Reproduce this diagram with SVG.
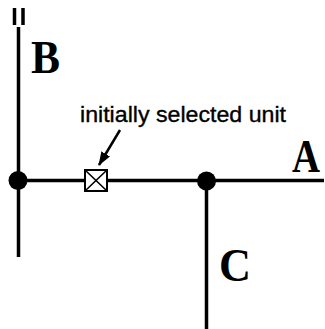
<svg xmlns="http://www.w3.org/2000/svg" width="325" height="329" viewBox="0 0 325 329">
  <style>
    .wire { stroke: #000; stroke-width: 3.5; fill: none; }
    .junction { fill: #000; }
    .label { font-family: "Liberation Serif", "Times New Roman", serif; font-weight: bold; font-size: 46px; fill: #000; }
    .note { font-family: "Liberation Sans", Arial, sans-serif; font-size: 22px; fill: #000; stroke: #000; stroke-width: 0.35; }
  </style>
  <defs>
    <marker id="arrowhead" markerWidth="14" markerHeight="10" refX="13" refY="5" orient="auto" markerUnits="userSpaceOnUse">
      <path d="M0,0 L14,5 L0,10 Z" fill="#000"/>
    </marker>
  </defs>
  <rect width="325" height="329" fill="#fff"/>

  <g id="connectors">
    <!-- break marks at the top of line B -->
    <line class="wire" x1="14.5" y1="8" x2="14.5" y2="25" stroke-width="2.5"/>
    <line class="wire" x1="23" y1="8" x2="23" y2="25" stroke-width="2.5"/>
    <!-- line B -->
    <line class="wire" x1="18.5" y1="27" x2="18.5" y2="257"/>
    <!-- line A -->
    <line class="wire" x1="18" y1="180.5" x2="324" y2="180.5"/>
    <!-- line C -->
    <line class="wire" x1="206.5" y1="180" x2="206.5" y2="329"/>
    <!-- pointer to the selected unit -->
    <line x1="120" y1="130" x2="99" y2="165" stroke="#000" stroke-width="2.5" marker-end="url(#arrowhead)"/>
  </g>

  <g id="junction-b">
    <circle class="junction" cx="18" cy="180.5" r="9.5"/>
  </g>
  <g id="junction-c">
    <circle class="junction" cx="206.5" cy="181" r="9.5"/>
  </g>

  <g id="unit">
    <rect x="85" y="170" width="22" height="21" fill="#fff" stroke="#000" stroke-width="2"/>
    <path d="M85,170 L107,191 M107,170 L85,191" stroke="#000" stroke-width="1.6"/>
  </g>

  <g id="note">
    <text class="note" x="80" y="122" textLength="206" lengthAdjust="spacingAndGlyphs">initially selected unit</text>
  </g>

  <g id="label-a">
    <text class="label" x="292" y="172" textLength="28" lengthAdjust="spacingAndGlyphs">A</text>
  </g>
  <g id="label-b">
    <text class="label" x="31" y="73" textLength="29" lengthAdjust="spacingAndGlyphs">B</text>
  </g>
  <g id="label-c">
    <text class="label" x="219" y="281" textLength="32" lengthAdjust="spacingAndGlyphs">C</text>
  </g>
</svg>
